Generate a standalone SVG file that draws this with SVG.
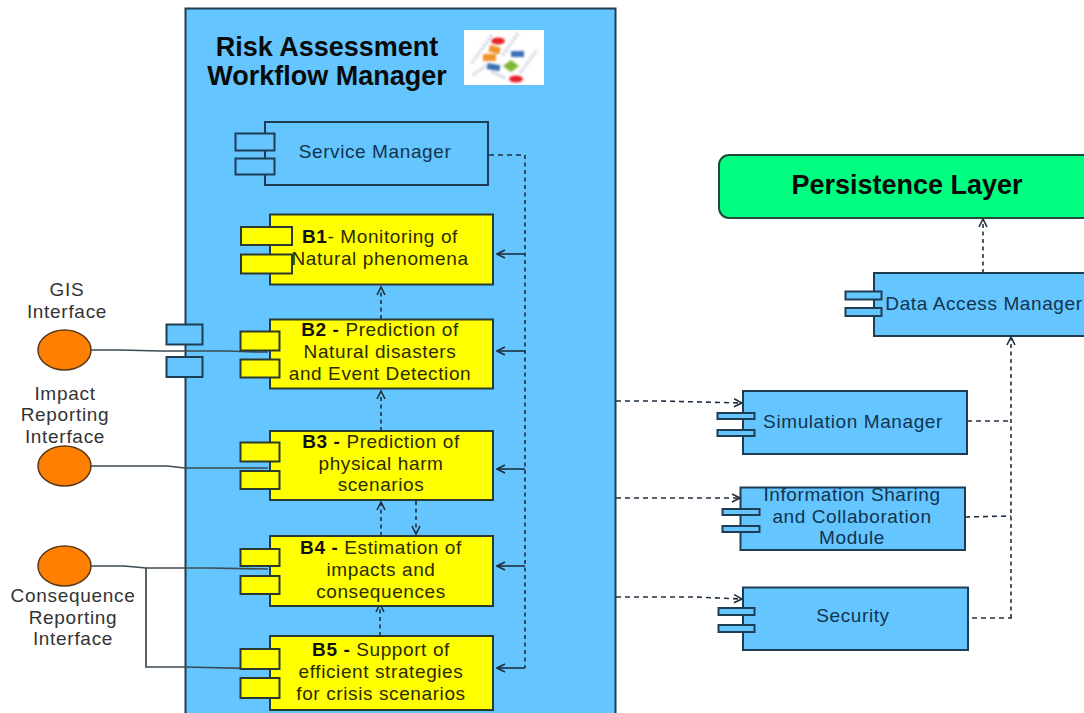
<svg xmlns="http://www.w3.org/2000/svg" width="1084" height="713" viewBox="0 0 1084 713">
<style>
text{font-family:"Liberation Sans",Arial,sans-serif;text-anchor:middle}
.lbl{font-size:19px;fill:#12344f;letter-spacing:.6px}
.y{font-size:19px;fill:#2b2b00;letter-spacing:.6px}
.y tspan.b,.t{font-weight:bold;fill:#111}
.t{font-size:27px;fill:#0a0a0a}
.ext{font-size:19px;fill:#333;letter-spacing:.7px}
.blue{fill:#64c5ff;stroke:#1f3d52;stroke-width:2}
.yel{fill:#ffff00;stroke:#2a3a30;stroke-width:2}
.or{fill:#ff7f00;stroke:#5a3a1a;stroke-width:1.5}
.sol{fill:none;stroke:#3c4a52;stroke-width:1.7}
.ar{fill:none;stroke:#1f3040;stroke-width:1.6}
.das{fill:none;stroke:#1f3040;stroke-width:1.6;stroke-dasharray:5 4}
.dot{fill:none;stroke:#1f3040;stroke-width:1.6;stroke-dasharray:4 3.5}
</style>
<defs>
<marker id="a" viewBox="0 0 10 10" refX="9" refY="5" markerWidth="10" markerHeight="10" markerUnits="userSpaceOnUse" orient="auto"><path d="M1 1 9 5 1 9" fill="none" stroke="#1f3040" stroke-width="1.6"/></marker>
<filter id="bl"><feGaussianBlur stdDeviation=".9"/></filter>
</defs>
<rect width="1084" height="713" fill="#fff"/>
<g id="workflow-manager">
<rect class="blue" x="185.500" y="8.500" width="430" height="712"/>
<text class="t" x="327" y="56">Risk Assessment</text>
<text class="t" x="327" y="85">Workflow Manager</text>
<g id="workflow-icon">
<rect x="464" y="30" width="80" height="55" fill="#fff"/>
<g filter="url(#bl)">
<path d="M472 63 492 35M473 75 487 65M503 55 518 33M520 73 537 50" stroke="#c4ccd8" stroke-width="3.500" stroke-dasharray="2 2" fill="none"/>
<path d="M492 72 505 78" stroke="#a3b0c8" stroke-width="2.500" stroke-dasharray="2 2"/>
<ellipse cx="498" cy="41" rx="7" ry="3.500" fill="#e8242a"/>
<rect x="489" y="46" width="11" height="7" fill="#f0932b" transform="rotate(15 494 50)"/>
<rect x="483" y="54" width="13" height="7" fill="#f0932b"/>
<rect x="511" y="51" width="13" height="6" fill="#3a6fb5"/>
<rect x="487" y="64" width="13" height="6" fill="#3a6fb5" transform="rotate(10 493 67)"/>
<path d="M511 60 519 66 511 72 503 66Z" fill="#7ab834"/>
<ellipse cx="516" cy="79" rx="7" ry="3.500" fill="#e8242a"/>
</g>
</g>
</g>
<g id="connectors">
<path class="sol" d="M91 350H120L160 351H228L254 352H268"/>
<path class="sol" d="M91 466H167L185 468H268"/>
<path class="sol" d="M91 566H124L146 568H210L268 569"/>
<path class="sol" d="M146 568V667H185L268 669"/>
<path class="das" d="M489 155H525"/>
<path class="dot" d="M525 155V668"/>
<path class="ar" marker-end="url(#a)" d="M525 254H497"/>
<path class="ar" marker-end="url(#a)" d="M525 351H497"/>
<path class="ar" marker-end="url(#a)" d="M525 469H497"/>
<path class="ar" marker-end="url(#a)" d="M525 566H497"/>
<path class="ar" marker-end="url(#a)" d="M525 668H497"/>
<path class="dot" marker-end="url(#a)" d="M381 319V287"/>
<path class="dot" marker-end="url(#a)" d="M381 431V391"/>
<path class="dot" marker-end="url(#a)" d="M381 536V502"/>
<path class="dot" marker-end="url(#a)" d="M416 501V534"/>
<path class="dot" marker-end="url(#a)" d="M380 636V604"/>
<path class="das" marker-end="url(#a)" d="M616 401H660L742 403"/>
<path class="das" marker-end="url(#a)" d="M616 498H740"/>
<path class="das" marker-end="url(#a)" d="M616 597H695L742 599"/>
<path class="das" d="M967 421H1011"/>
<path class="das" d="M965 517 1011 516"/>
<path class="das" d="M972 618H1012"/>
<path class="dot" marker-end="url(#a)" d="M1011 618V337"/>
<path class="dot" marker-end="url(#a)" d="M983 273V219"/>
</g>
<g id="service-manager">
<rect class="blue" x="265" y="122" width="223" height="63"/>
<rect class="blue" x="235.500" y="133.500" width="39" height="17"/>
<rect class="blue" x="235.500" y="158.500" width="39" height="16"/>
<text class="lbl" x="375" y="158">Service Manager</text>
</g>
<g id="b1">
<rect class="yel" x="270" y="214.500" width="223" height="70"/>
<rect class="yel" x="241" y="227" width="51" height="18"/>
<rect class="yel" x="241" y="254.500" width="51" height="19"/>
<text class="y" x="380" y="243"><tspan class="b">B1</tspan>- Monitoring of</text>
<text class="y" x="380" y="265">Natural phenomena</text>
</g>
<g id="b2">
<rect class="yel" x="270" y="319.500" width="223" height="69"/>
<rect class="yel" x="240.500" y="331.500" width="39" height="19"/>
<rect class="yel" x="240.500" y="359.500" width="39" height="18"/>
<text class="y" x="380" y="336"><tspan class="b">B2 - </tspan>Prediction of</text>
<text class="y" x="380" y="358">Natural disasters</text>
<text class="y" x="380" y="380">and Event Detection</text>
</g>
<g id="b3">
<rect class="yel" x="270" y="431" width="223" height="69"/>
<rect class="yel" x="240.500" y="442.500" width="39" height="19"/>
<rect class="yel" x="240.500" y="471" width="39" height="18"/>
<text class="y" x="381" y="448"><tspan class="b">B3 - </tspan>Prediction of</text>
<text class="y" x="381" y="470">physical harm</text>
<text class="y" x="381" y="491">scenarios</text>
</g>
<g id="b4">
<rect class="yel" x="270" y="536" width="223" height="70"/>
<rect class="yel" x="240.500" y="549" width="39" height="17"/>
<rect class="yel" x="240.500" y="576" width="39" height="18"/>
<text class="y" x="381" y="554"><tspan class="b">B4 - </tspan>Estimation of</text>
<text class="y" x="381" y="576">impacts and</text>
<text class="y" x="381" y="598">consequences</text>
</g>
<g id="b5">
<rect class="yel" x="270" y="636" width="223" height="74"/>
<rect class="yel" x="240.500" y="649" width="39" height="20"/>
<rect class="yel" x="240.500" y="678" width="39" height="20"/>
<text class="y" x="381" y="656"><tspan class="b">B5 - </tspan>Support of</text>
<text class="y" x="381" y="678">efficient strategies</text>
<text class="y" x="381" y="700">for crisis scenarios</text>
</g>
<g id="ports">
<rect class="blue" x="166.500" y="324.500" width="36" height="20"/>
<rect class="blue" x="166.500" y="357" width="36" height="20"/>
</g>
<g id="gis-interface">
<ellipse class="or" cx="64.500" cy="350" rx="26.500" ry="20"/>
<text class="ext" x="67" y="296">GIS</text>
<text class="ext" x="67" y="318">Interface</text>
</g>
<g id="impact-interface">
<ellipse class="or" cx="64.500" cy="466" rx="26.500" ry="20"/>
<text class="ext" x="65" y="400">Impact</text>
<text class="ext" x="65" y="421">Reporting</text>
<text class="ext" x="65" y="443">Interface</text>
</g>
<g id="consequence-interface">
<ellipse class="or" cx="64.500" cy="566" rx="26.500" ry="20"/>
<text class="ext" x="73" y="602">Consequence</text>
<text class="ext" x="73" y="624">Reporting</text>
<text class="ext" x="73" y="645">Interface</text>
</g>
<g id="persistence-layer">
<rect x="719" y="155" width="380" height="63" rx="10" fill="#00ff80" stroke="#1f4a3a" stroke-width="2"/>
<text x="907" y="194" font-size="27" font-weight="bold" fill="#0a0a0a">Persistence Layer</text>
</g>
<g id="data-access-manager">
<rect class="blue" x="874" y="273" width="225" height="63"/>
<rect class="blue" x="845.500" y="291.500" width="36" height="8"/>
<rect class="blue" x="845.500" y="308" width="36" height="8"/>
<text class="lbl" x="984" y="310">Data Access Manager</text>
</g>
<g id="simulation-manager">
<rect class="blue" x="743" y="391" width="224" height="63"/>
<rect class="blue" x="717.500" y="413" width="37" height="6"/>
<rect class="blue" x="717.500" y="430" width="37" height="6"/>
<text class="lbl" x="853" y="428">Simulation Manager</text>
</g>
<g id="information-sharing">
<rect class="blue" x="740.500" y="487.500" width="224.500" height="62.500"/>
<rect class="blue" x="722.500" y="509" width="37" height="6"/>
<rect class="blue" x="722.500" y="526" width="37" height="6"/>
<text class="lbl" x="852" y="501">Information Sharing</text>
<text class="lbl" x="852" y="523">and Collaboration</text>
<text class="lbl" x="852" y="544">Module</text>
</g>
<g id="security">
<rect class="blue" x="743" y="587.500" width="225" height="62.500"/>
<rect class="blue" x="718.500" y="608" width="36" height="7"/>
<rect class="blue" x="718.500" y="625" width="36" height="7"/>
<text class="lbl" x="853" y="622">Security</text>
</g>
</svg>
